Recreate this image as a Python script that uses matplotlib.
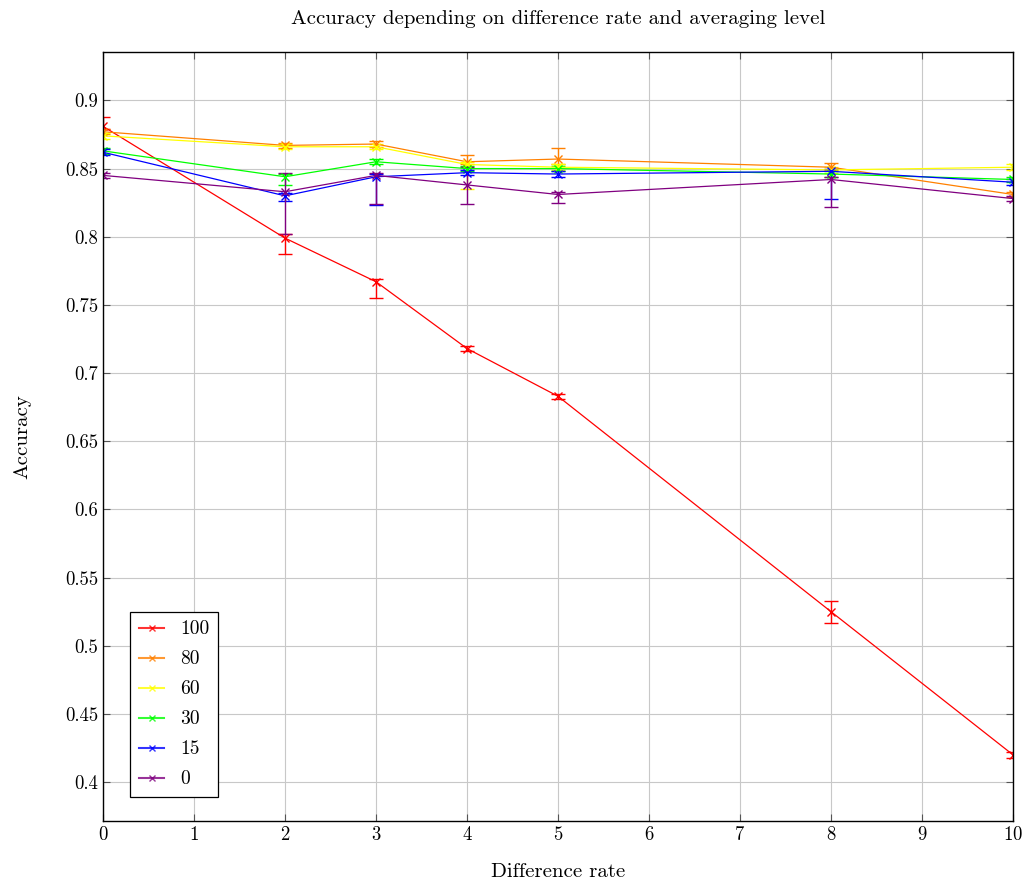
import matplotlib.pyplot as plt
from matplotlib.lines import Line2D

plt.rcParams['font.family'] = ['cmr10', 'DejaVu Serif']
plt.rcParams['axes.formatter.use_mathtext'] = True
plt.rcParams['mathtext.fontset'] = 'cm'

# data
diff_rate = [0, 2, 3, 4, 5, 8, 10]
levels = ["100", "80", "60", "30", "15", "0"]
colors = ["#ff0000", "#ff8000", "#ffff00", "#00ff00", "#0000ff", "#800080"]

acc = {
    "100": [0.881, 0.799, 0.767, 0.718, 0.683, 0.525, 0.420],
    "80":  [0.877, 0.867, 0.868, 0.855, 0.857, 0.851, 0.831],
    "60":  [0.874, 0.866, 0.866, 0.853, 0.851, 0.849, 0.851],
    "30":  [0.863, 0.844, 0.855, 0.850, 0.850, 0.846, 0.842],
    "15":  [0.862, 0.830, 0.844, 0.847, 0.846, 0.848, 0.840],
    "0":   [0.845, 0.833, 0.845, 0.838, 0.831, 0.842, 0.828],
}
err_lo = {
    "100": [0.002, 0.012, 0.012, 0.002, 0.002, 0.008, 0.002],
    "80":  [0.002, 0.002, 0.002, 0.002, 0.004, 0.002, 0.002],
    "60":  [0.002, 0.002, 0.002, 0.018, 0.002, 0.002, 0.002],
    "30":  [0.002, 0.006, 0.002, 0.002, 0.002, 0.002, 0.002],
    "15":  [0.002, 0.004, 0.021, 0.002, 0.002, 0.020, 0.002],
    "0":   [0.002, 0.031, 0.021, 0.014, 0.006, 0.020, 0.002],
}
err_hi = {
    "100": [0.007, 0.003, 0.002, 0.002, 0.002, 0.008, 0.002],
    "80":  [0.002, 0.002, 0.002, 0.005, 0.008, 0.003, 0.002],
    "60":  [0.002, 0.002, 0.002, 0.002, 0.002, 0.002, 0.002],
    "30":  [0.002, 0.002, 0.002, 0.002, 0.002, 0.002, 0.002],
    "15":  [0.002, 0.002, 0.002, 0.002, 0.002, 0.002, 0.002],
    "0":   [0.002, 0.014, 0.002, 0.013, 0.002, 0.002, 0.002],
}

fig = plt.figure(figsize=(10.25, 8.86), dpi=100)
ax = fig.add_axes([0.1005, 0.0734, 0.8878, 0.8679])

handles = []
for lvl, c in zip(levels, colors):
    ax.errorbar(diff_rate, acc[lvl], yerr=[err_lo[lvl], err_hi[lvl]],
                color=c, marker="x", markersize=6, linewidth=0.9,
                elinewidth=1.0, capsize=5, capthick=1.0)
    handles.append(Line2D([], [], color=c, marker="x", markersize=4,
                          linewidth=1.5, alpha=0.8, label=lvl))

ax.set_xlim(0, 10)
ax.set_ylim(0.3715, 0.9355)
ax.set_xticks(range(0, 11))
ax.set_yticks([0.4, 0.45, 0.5, 0.55, 0.6, 0.65, 0.7, 0.75, 0.8, 0.85, 0.9])
ax.set_yticklabels(["0.4", "0.45", "0.5", "0.55", "0.6", "0.65", "0.7",
                    "0.75", "0.8", "0.85", "0.9"])
ax.tick_params(direction="in", labelsize=13.5, length=5, width=0.8, color="#555555",
               right=True, top=True)
ax.grid(True, color="#c8c8c8", linewidth=0.8)
ax.set_axisbelow(True)
for s in ax.spines.values():
    s.set_linewidth(1.0)

ax.set_xlabel("Difference rate", fontsize=15, labelpad=14)
ax.set_ylabel("Accuracy", fontsize=15, labelpad=24)
ax.set_title("Accuracy depending on difference rate and averaging level",
             fontsize=15, pad=20)

leg = ax.legend(handles=handles, loc="lower left", bbox_to_anchor=(0.03, 0.031),
                borderaxespad=0, fontsize=14, fancybox=False, edgecolor="black",
                framealpha=1, handlelength=1.3, borderpad=0.45, labelspacing=0.62,
                handletextpad=0.8)
leg.get_frame().set_linewidth(0.9)

fig.savefig("out.png", dpi=100)
